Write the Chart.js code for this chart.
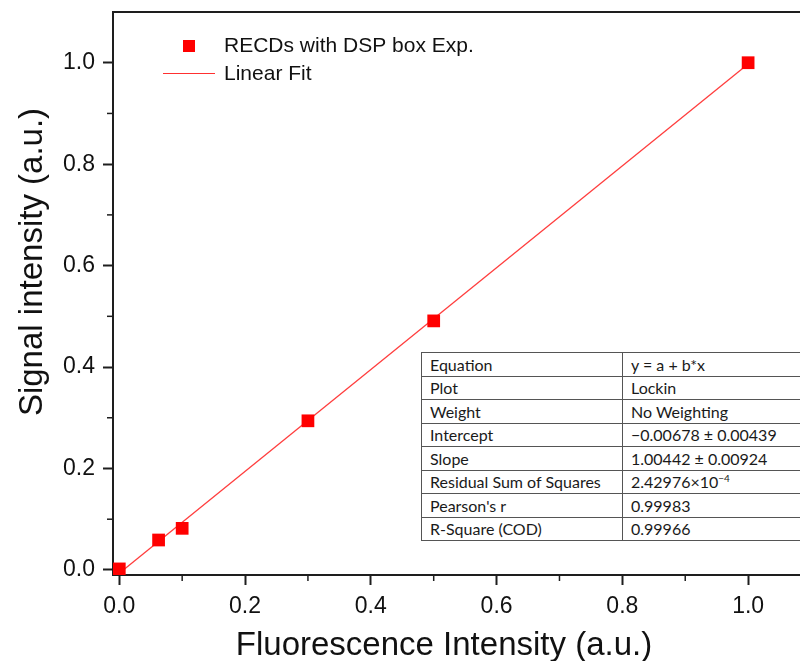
<!DOCTYPE html>
<html>
<head>
<meta charset="utf-8">
<script src="https://cdn.jsdelivr.net/npm/chart.js@4.4.1/dist/chart.umd.min.js"></script>
<style>
  html, body { margin: 0; padding: 0; background: #fff; }
  #wrap { position: relative; width: 800px; height: 661px; overflow: hidden; }
  canvas { position: absolute; left: 0; top: 0; }
  #fit { position: absolute; left: 421px; top: 352px; width: 411px; table-layout: fixed; border-collapse: collapse; background: #fff;
         font-family: Lato, "Open Sans", sans-serif; font-size: 16px; color: #1a1a1a; }
  #fit td { border: 1px solid #555; height: 22.5px; padding: 0 0 0 8px; line-height: 21px; white-space: nowrap; overflow: hidden; }
  sup { font-size: 10px; line-height: 0; vertical-align: 6px; }
</style>
</head>
<body>
<div id="wrap">
  <canvas id="c" width="830" height="661"></canvas>
  <table id="fit">
    <colgroup><col style="width:201px"><col style="width:210px"></colgroup>
    <tr><td>Equation</td><td>y = a + b*x</td></tr>
    <tr><td>Plot</td><td>Lockin</td></tr>
    <tr><td>Weight</td><td>No Weighting</td></tr>
    <tr><td>Intercept</td><td>&minus;0.00678 &plusmn; 0.00439</td></tr>
    <tr><td>Slope</td><td>1.00442 &plusmn; 0.00924</td></tr>
    <tr><td>Residual Sum of Squares</td><td>2.42976&times;10<sup>&minus;4</sup></td></tr>
    <tr><td>Pearson's r</td><td>0.99983</td></tr>
    <tr><td>R-Square (COD)</td><td>0.99966</td></tr>
  </table>
</div>
<script>
// ---- data ----
const xValues = [0, 0.0625, 0.1, 0.3, 0.5, 1.0];
const yValues = [0.002, 0.059, 0.082, 0.294, 0.491, 1.0];
const fitX = [0, 1];
const fitY = [-0.00678, 0.99764];
const xTicks = [0, 0.2, 0.4, 0.6, 0.8, 1.0];
const yTicks = [0, 0.2, 0.4, 0.6, 0.8, 1.0];
const xMinor = [0.1, 0.3, 0.5, 0.7, 0.9];
const yMinor = [0.1, 0.3, 0.5, 0.7, 0.9];
const seriesLabel = 'RECDs with DSP box Exp.';
const fitLabel = 'Linear Fit';
const xTitle = 'Fluorescence Intensity (a.u.)';
const yTitle = 'Signal intensity (a.u.)';

const AX = '#1e1e1e';
const FONT = '"Liberation Sans", Arial, sans-serif';

const decor = {
  id: 'decor',
  afterDraw(chart) {
    const ctx = chart.ctx;
    const a = chart.chartArea;
    const xs = chart.scales.x, ys = chart.scales.y;
    ctx.save();
    // top frame
    ctx.strokeStyle = AX; ctx.lineWidth = 2;
    ctx.beginPath(); ctx.moveTo(a.left - 1, a.top); ctx.lineTo(a.right, a.top); ctx.stroke();
    // minor ticks
    ctx.lineWidth = 1.5;
    xMinor.forEach(v => {
      const p = xs.getPixelForValue(v);
      ctx.beginPath(); ctx.moveTo(p, a.bottom); ctx.lineTo(p, a.bottom + 6); ctx.stroke();
    });
    yMinor.forEach(v => {
      const p = ys.getPixelForValue(v);
      ctx.beginPath(); ctx.moveTo(a.left - 6, p); ctx.lineTo(a.left, p); ctx.stroke();
    });
    // axis titles
    ctx.fillStyle = '#111';
    ctx.font = '33px ' + FONT;
    ctx.textAlign = 'center'; ctx.textBaseline = 'alphabetic';
    ctx.fillText(xTitle, 444, 655);
    ctx.save();
    ctx.translate(42, 262); ctx.rotate(-Math.PI / 2);
    ctx.fillText(yTitle, 0, 0);
    ctx.restore();
    // legend
    ctx.font = '21px ' + FONT;
    ctx.textAlign = 'left'; ctx.textBaseline = 'middle';
    ctx.fillStyle = '#ff0000';
    ctx.fillRect(183, 40, 12, 12);
    ctx.fillStyle = '#111';
    ctx.fillText(seriesLabel, 224, 46);
    ctx.strokeStyle = '#ff3030'; ctx.lineWidth = 1.2;
    ctx.beginPath(); ctx.moveTo(163, 73.5); ctx.lineTo(215, 73.5); ctx.stroke();
    ctx.fillText(fitLabel, 224, 74);
    ctx.restore();
  }
};

new Chart(document.getElementById('c'), {
  type: 'scatter',
  data: {
    datasets: [
      {
        label: fitLabel,
        data: fitX.map((x, i) => ({ x, y: fitY[i] })),
        showLine: true,
        borderColor: 'rgba(255,40,40,0.9)',
        borderWidth: 1.3,
        pointRadius: 0,
        order: 2
      },
      {
        label: seriesLabel,
        data: xValues.map((x, i) => ({ x, y: yValues[i] })),
        pointStyle: 'rect',
        pointRadius: 9,
        pointBorderWidth: 0,
        backgroundColor: '#ff0000',
        borderColor: '#ff0000',
        order: 1
      }
    ]
  },
  options: {
    responsive: false,
    animation: false,
    devicePixelRatio: 1,
    layout: { padding: { top: 12, right: 19, left: 0, bottom: 0 } },
    plugins: { legend: { display: false }, tooltip: { enabled: false } },
    scales: {
      x: {
        type: 'linear', min: -0.01, max: 1.1,
        afterBuildTicks: s => { s.ticks = xTicks.map(v => ({ value: v })); },
        afterFit: s => { s.height = 86; s.paddingLeft = 0; s.paddingRight = 0; },
        ticks: { callback: v => v.toFixed(1), color: '#111', font: { family: FONT, size: 23 }, padding: 8, maxRotation: 0 },
        grid: { drawOnChartArea: false, drawTicks: true, tickLength: 10, tickWidth: 2, tickColor: AX },
        border: { display: true, color: AX, width: 2 }
      },
      y: {
        type: 'linear', min: -0.01, max: 1.1,
        afterBuildTicks: s => { s.ticks = yTicks.map(v => ({ value: v })); },
        afterFit: s => { s.width = 113; s.paddingTop = 0; s.paddingBottom = 0; },
        ticks: { callback: v => v.toFixed(1), color: '#111', font: { family: FONT, size: 23 }, padding: 8 },
        grid: { drawOnChartArea: false, drawTicks: true, tickLength: 10, tickWidth: 2, tickColor: AX },
        border: { display: true, color: AX, width: 2 }
      }
    }
  },
  plugins: [decor]
});
</script>
</body>
</html>
